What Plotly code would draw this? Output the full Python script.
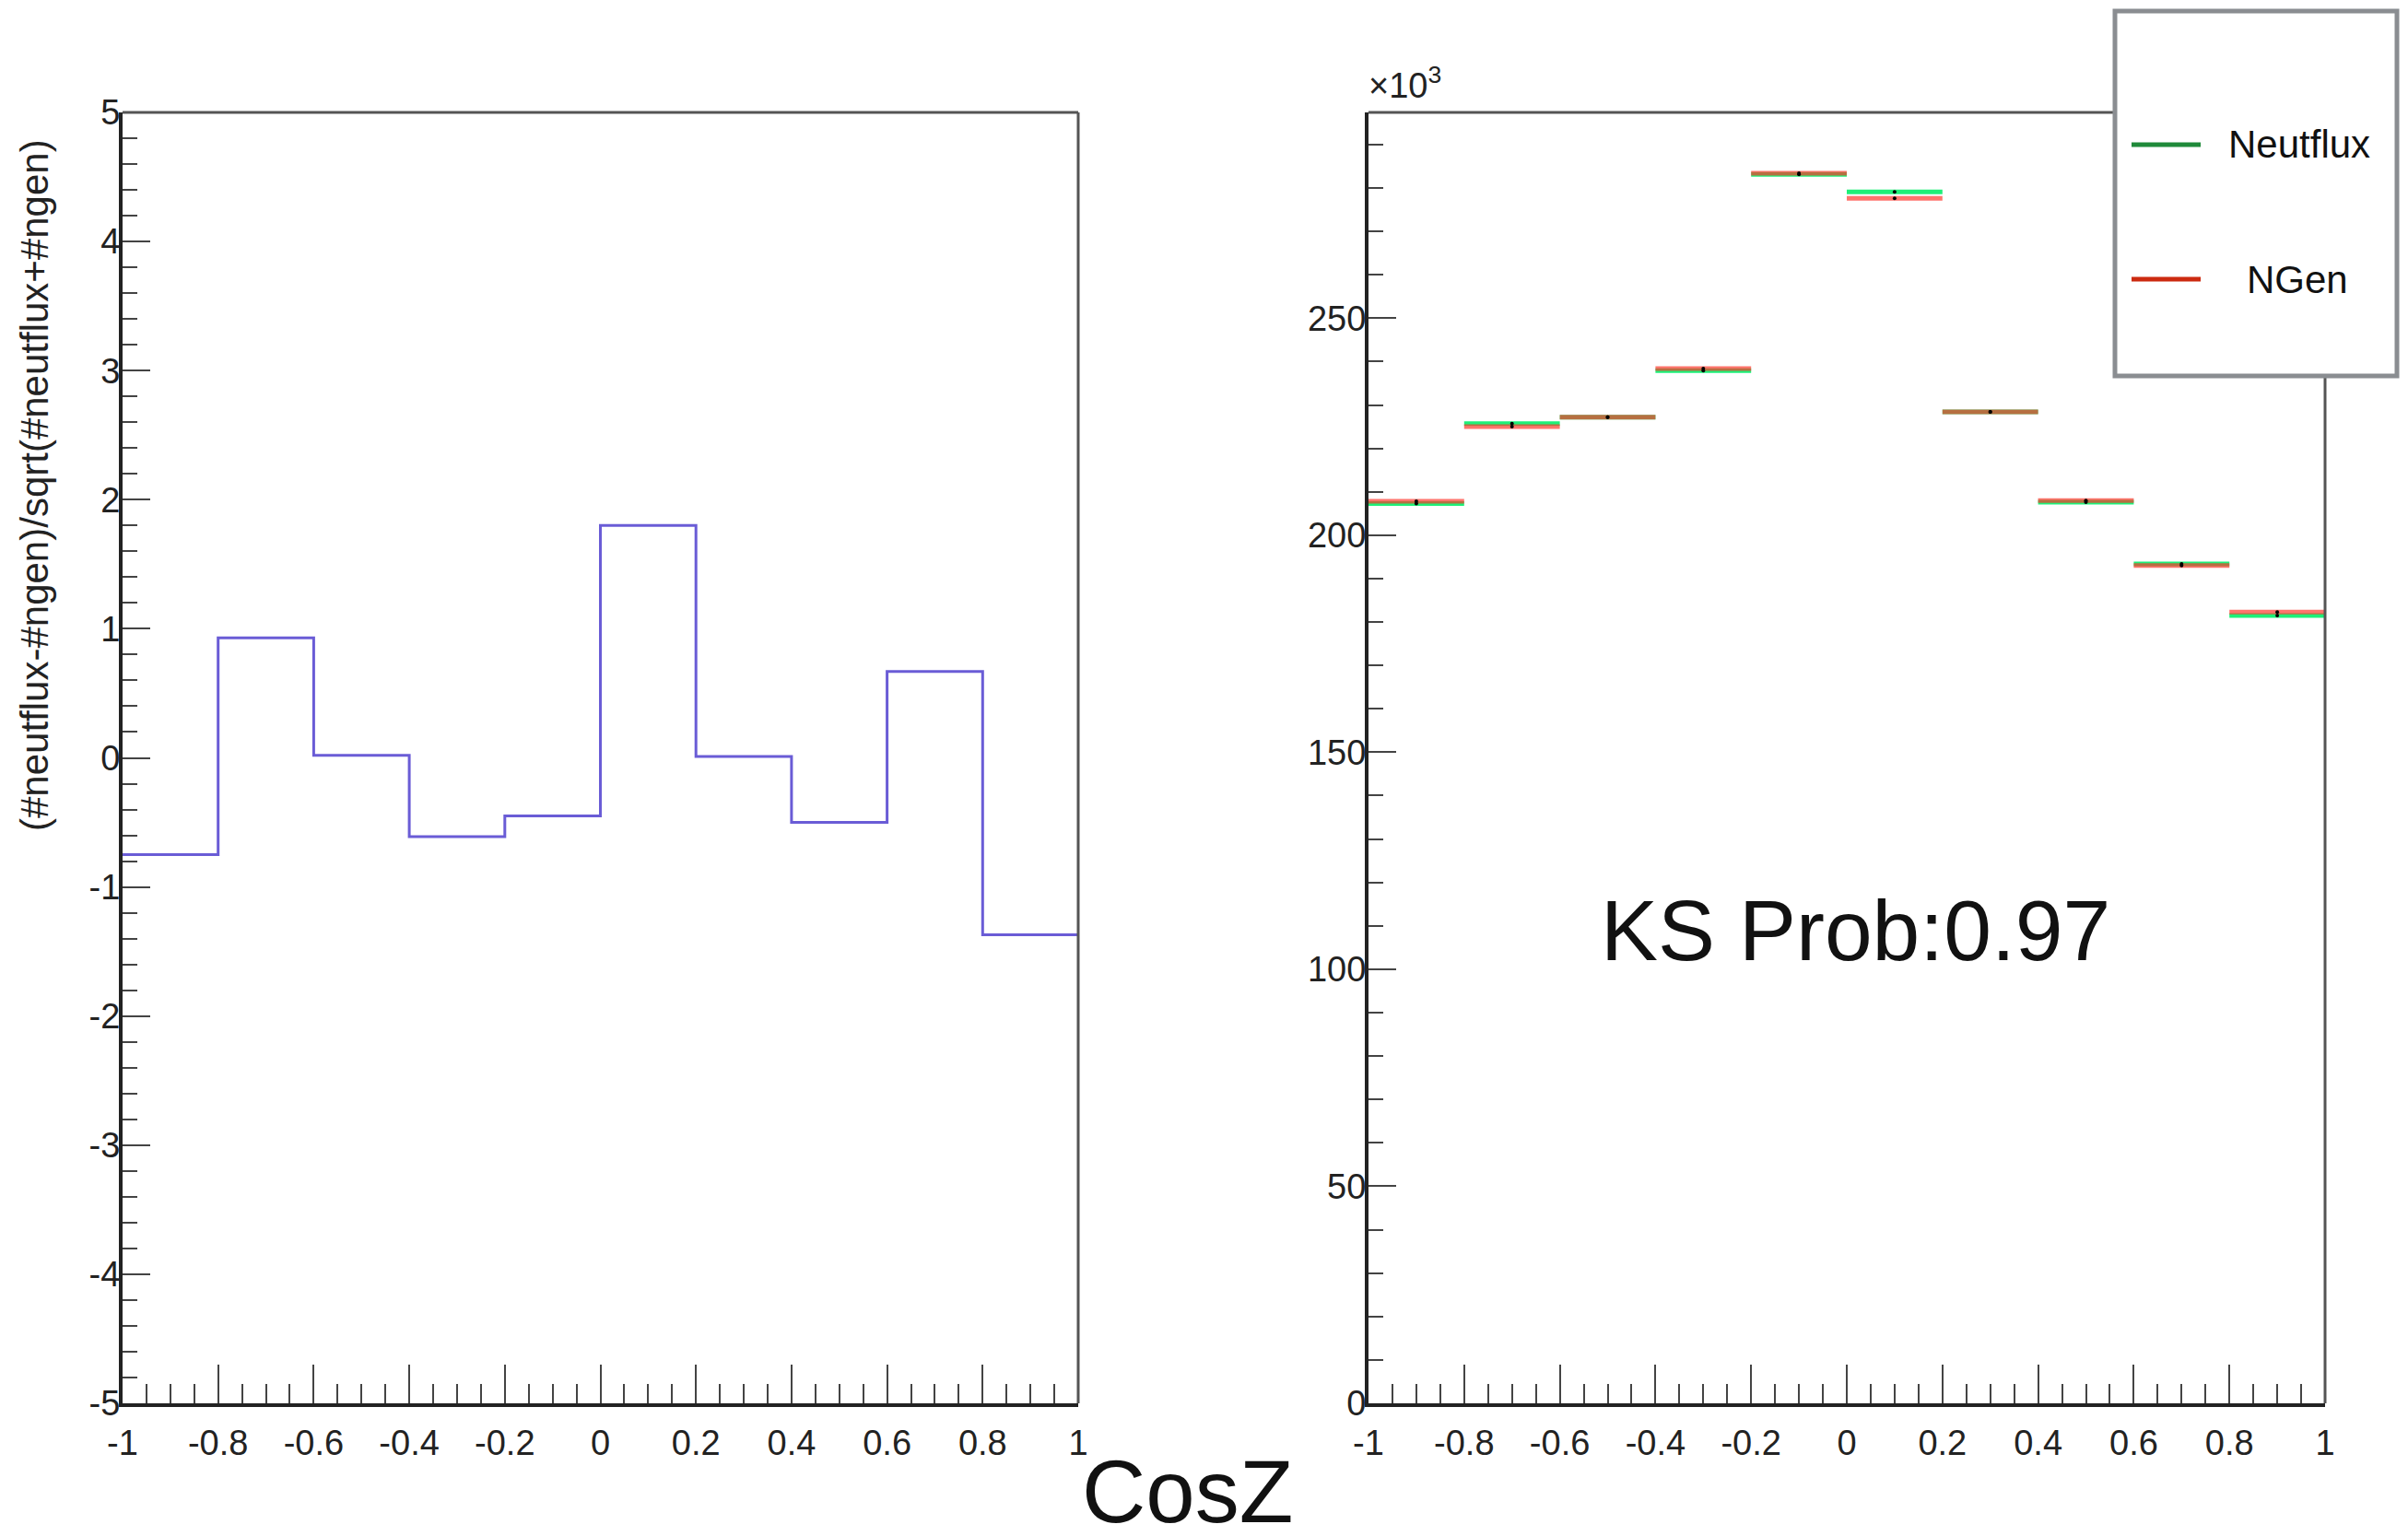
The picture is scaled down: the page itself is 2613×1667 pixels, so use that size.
import plotly.graph_objects as go

# ---------------- data ----------------
bin_edges = [-1.0, -0.8, -0.6, -0.4, -0.2, 0.0, 0.2, 0.4, 0.6, 0.8, 1.0]
pull = [-0.75, 0.93, 0.02, -0.61, -0.45, 1.80, 0.01, -0.50, 0.67, -1.37]
neutflux = [207300, 225700, 227200, 237900, 283100, 279100, 228400, 207600, 193400, 181500]
ngen = [207800, 225000, 227200, 238400, 283400, 277600, 228400, 208000, 193000, 182300]

x_tick_vals = [-1, -0.8, -0.6, -0.4, -0.2, 0, 0.2, 0.4, 0.6, 0.8, 1]
x_tick_text = ["-1", "-0.8", "-0.6", "-0.4", "-0.2", "0", "0.2", "0.4", "0.6", "0.8", "1"]
left_y_vals = [-5, -4, -3, -2, -1, 0, 1, 2, 3, 4, 5]
left_y_text = ["-5", "-4", "-3", "-2", "-1", "0", "1", "2", "3", "4", "5"]
right_y_vals = [0, 50000, 100000, 150000, 200000, 250000]
right_y_text = ["0", "50", "100", "150", "200", "250"]

KS_TEXT = "KS Prob:0.97"
Y_TITLE = "(#neutflux-#ngen)/sqrt(#neutflux+#ngen)"

# ---------------- layout geometry ----------------
W, H = 2613, 1667
LX = [133 / W, 1170 / W]
RX = [1485 / W, 2523 / W]
YD = [1 - 1523 / H, 1 - 122 / H]
FONT = "Liberation Sans, Arial, sans-serif"

fig = go.Figure()

# left: pull step histogram
fig.add_trace(go.Scatter(
    x=bin_edges, y=pull + [pull[-1]], mode="lines", line_shape="hv",
    line=dict(color="#6a5cd6", width=3), xaxis="x", yaxis="y",
    showlegend=False, hoverinfo="skip"))


def segments(vals):
    xs, ys = [], []
    for lo, hi, v in zip(bin_edges[:-1], bin_edges[1:], vals):
        xs += [lo, hi, None]
        ys += [v, v, None]
    return xs, ys


centers = [(lo + hi) / 2 for lo, hi in zip(bin_edges[:-1], bin_edges[1:])]

gx, gy = segments(neutflux)
fig.add_trace(go.Scatter(x=gx, y=gy, mode="lines", line=dict(color="rgb(30,240,120)", width=5),
                         xaxis="x2", yaxis="y2", showlegend=False, hoverinfo="skip"))
rx, ry = segments(ngen)
fig.add_trace(go.Scatter(x=rx, y=ry, mode="lines", line=dict(color="rgba(255,50,40,0.68)", width=5),
                         xaxis="x2", yaxis="y2", showlegend=False, hoverinfo="skip"))
fig.add_trace(go.Scatter(x=centers, y=neutflux, mode="markers", marker=dict(color="black", size=4),
                         xaxis="x2", yaxis="y2", showlegend=False, hoverinfo="skip"))
fig.add_trace(go.Scatter(x=centers, y=ngen, mode="markers", marker=dict(color="black", size=4),
                         xaxis="x2", yaxis="y2", showlegend=False, hoverinfo="skip"))

x_minor = [round(-1 + 0.05 * i, 2) for i in range(41)]
ly_minor = [round(-5 + 0.2 * i, 2) for i in range(51)]
ry_minor = [10000 * i for i in range(30)]

tickfont = dict(family=FONT, size=38, color="#222")


def xaxis_cfg(domain, anchor):
    return dict(domain=domain, anchor=anchor, range=[-1, 1], tickmode="array", automargin=False,
                tickvals=x_tick_vals, ticktext=x_tick_text, ticks="inside", ticklen=42,
                tickwidth=2, tickcolor="#444", showline=True, linewidth=4, linecolor="#222",
                showgrid=False, zeroline=False, tickfont=tickfont, ticklabelstandoff=6,
                minor=dict(tickmode="array", tickvals=x_minor, ticks="inside", ticklen=21,
                           tickwidth=2, tickcolor="#444", showgrid=False))


def yaxis_cfg(anchor, rng, vals, text, minor_vals):
    return dict(domain=YD, anchor=anchor, range=rng, tickmode="array", tickvals=vals,
                ticktext=text, ticks="inside", ticklen=30, tickwidth=2, tickcolor="#444",
                showline=True, linewidth=4, linecolor="#222", showgrid=False, zeroline=False,
                tickfont=tickfont, ticklabelstandoff=-9, automargin=False,
                minor=dict(tickmode="array", tickvals=minor_vals, ticks="inside", ticklen=16,
                           tickwidth=2, tickcolor="#444", showgrid=False))


fig.update_layout(
    width=W, height=H, margin=dict(l=0, r=0, t=0, b=0, autoexpand=False),
    paper_bgcolor="white", plot_bgcolor="white", showlegend=False,
    xaxis=xaxis_cfg(LX, "y"),
    xaxis2=xaxis_cfg(RX, "y2"),
    yaxis=yaxis_cfg("x", [-5, 5], left_y_vals, left_y_text, ly_minor),
    yaxis2=yaxis_cfg("x2", [0, 297400], right_y_vals, right_y_text, ry_minor),
)

shapes = []
for xr, yr in (("x domain", "y domain"), ("x2 domain", "y2 domain")):
    shapes.append(dict(type="line", xref=xr, yref=yr, x0=0, x1=1, y0=1, y1=1,
                       line=dict(color="#555", width=3)))
    shapes.append(dict(type="line", xref=xr, yref=yr, x0=1, x1=1, y0=0, y1=1,
                       line=dict(color="#555", width=3)))

# legend box
shapes.append(dict(type="rect", xref="paper", yref="paper", x0=2295 / W, x1=2601 / W,
                   y0=1 - 408 / H, y1=1 - 12 / H, fillcolor="white",
                   line=dict(color="#8a8d91", width=5), layer="above"))
shapes.append(dict(type="line", xref="paper", yref="paper", x0=2313 / W, x1=2388 / W,
                   y0=1 - 157 / H, y1=1 - 157 / H, line=dict(color="#1f8a3a", width=5), layer="above"))
shapes.append(dict(type="line", xref="paper", yref="paper", x0=2313 / W, x1=2388 / W,
                   y0=1 - 303 / H, y1=1 - 303 / H, line=dict(color="#cc2a10", width=5), layer="above"))

annotations = [
    dict(text="Neutflux", xref="paper", yref="paper", x=2495 / W, y=1 - 157 / H,
         showarrow=False, font=dict(family=FONT, size=42, color="#111"), xanchor="center", yanchor="middle"),
    dict(text="NGen", xref="paper", yref="paper", x=2493 / W, y=1 - 303 / H,
         showarrow=False, font=dict(family=FONT, size=42, color="#111"), xanchor="center", yanchor="middle"),
    dict(text=KS_TEXT, xref="paper", yref="paper", x=2013 / W, y=1 - 1010 / H,
         showarrow=False, font=dict(family=FONT, size=93, color="#111"), xanchor="center", yanchor="middle"),
    dict(text="CosZ", xref="paper", yref="paper", x=1288 / W, y=1 - 1618 / H,
         showarrow=False, font=dict(family=FONT, size=96, color="#111"), xanchor="center", yanchor="middle"),
    dict(text=Y_TITLE, xref="paper", yref="paper", x=37 / W, y=1 - 527 / H, textangle=-90,
         showarrow=False, font=dict(family=FONT, size=42, color="#222"), xanchor="center", yanchor="middle"),
    dict(text="×10<sup>3</sup>", xref="paper", yref="paper", x=1483 / W, y=1 - 116 / H,
         showarrow=False, font=dict(family=FONT, size=38, color="#222"), xanchor="left", yanchor="bottom"),
]

fig.update_layout(shapes=shapes, annotations=annotations)
fig.write_html("out.html")
